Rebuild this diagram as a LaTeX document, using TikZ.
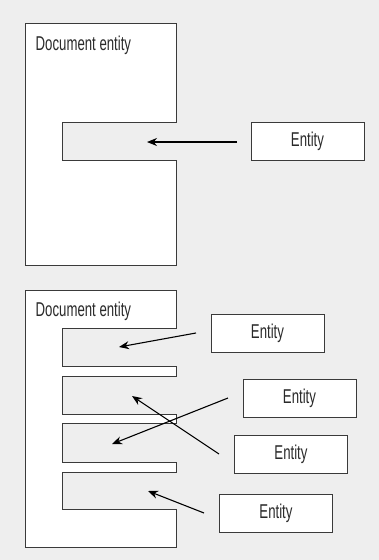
\documentclass[tikz,border=0pt]{standalone}
\usepackage{fontspec}
\setmainfont{Liberation Sans}[FakeStretch=0.66]
\usetikzlibrary{arrows.meta}
\definecolor{bg}{HTML}{EEEEEE}
\definecolor{edge}{HTML}{3A3A3A}
\definecolor{txt}{HTML}{2A2A2A}
\begin{document}
\begin{tikzpicture}[x=1pt,y=-1pt,
  docshape/.style={draw=edge,fill=white,line width=1pt,line join=miter},
  entbox/.style={draw=edge,fill=white,line width=1pt,minimum width=113pt,minimum height=38pt,inner sep=0pt,text=txt,font=\fontsize{20}{22}\selectfont},
  doclabel/.style={anchor=base west,inner sep=0pt,text=txt,font=\fontsize{20}{22}\selectfont},
  arr/.style={-{Stealth[length=10pt,width=8pt]},line width=1.1pt,black}]
\useasboundingbox[fill=bg] (0,0) rectangle (379,560);
% top document
\draw[docshape] (25,23) -- (176,23) -- (176,122) -- (62,122) -- (62,160) -- (176,160) -- (176,265) -- (25,265) -- cycle;
\node[doclabel] (doc1) at (35.5,50) {Document entity};
\node[entbox] (e0) at (307.5,141) {Entity};
\coordinate (t0) at (237,142);
\coordinate (h0) at (147,142);
\draw[arr] (t0) -- (h0);
% bottom document
\draw[docshape] (25,290) -- (176,290) -- (176,328) -- (62,328) -- (62,366) -- (176,366) -- (176,376) -- (62,376) -- (62,414) -- (176,414) -- (176,423) -- (62,423) -- (62,462) -- (176,462) -- (176,472) -- (62,472) -- (62,509) -- (176,509) -- (176,547) -- (25,547) -- cycle;
\node[doclabel] (doc2) at (35.5,316) {Document entity};
\node[entbox] (e1) at (267.5,333) {Entity};
\node[entbox] (e2) at (299.5,398) {Entity};
\node[entbox] (e3) at (291,454) {Entity};
\node[entbox] (e4) at (276,513) {Entity};
\coordinate (t1) at (196,333);
\coordinate (h1) at (119,347);
\coordinate (t2) at (219,454);
\coordinate (h2) at (132,396);
\coordinate (t3) at (228,398);
\coordinate (h3) at (112,444);
\coordinate (t4) at (204,513);
\coordinate (h4) at (148,491);
\draw[arr] (t1) -- (h1);
\draw[arr] (t2) -- (h2);
\draw[arr] (t3) -- (h3);
\draw[arr] (t4) -- (h4);
\end{tikzpicture}
\end{document}
